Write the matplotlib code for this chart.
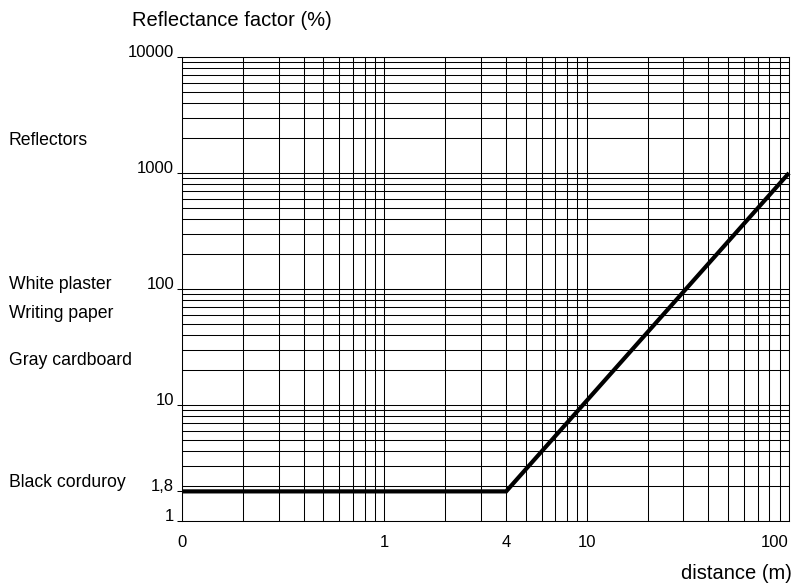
import numpy as np
import matplotlib.pyplot as plt
from matplotlib.ticker import FixedLocator, NullFormatter

plt.rcParams['font.family'] = ['Liberation Sans', 'DejaVu Sans']

# data
distance = [0.1, 4, 100]
reflectance = [1.8, 1.8, 1000]

x_ticks = [0.1, 1, 4, 10, 100]
x_labels = ['0', '1', '4', '10', '100']
y_ticks = [1, 1.8, 10, 100, 1000, 10000]
y_labels = ['1', '1,8', '10', '100', '1000', '10000']

materials = ['Reflectors', 'White plaster', 'Writing paper', 'Gray cardboard', 'Black corduroy']
material_y = [145, 289, 318, 365, 487]  # baseline in pixels from top

W, H = 801, 583
fig = plt.figure(figsize=(W / 100, H / 100), dpi=100)
ax = fig.add_axes([182 / W, 1 - 521 / H, (789 - 182) / W, (521 - 57) / H])

ax.plot(distance, reflectance, color='black', lw=3.0, solid_capstyle='butt',
        solid_joinstyle='miter', zorder=5, clip_on=False)

ax.set_xscale('log')
ax.set_yscale('log')
ax.set_xlim(0.1, 100)
ax.set_ylim(1, 10000)

# grid on every 1..9 of each decade
x_minor = [m * 10.0 ** e for e in range(-1, 2) for m in range(1, 10)] + [100]
y_minor = [m * 10.0 ** e for e in range(0, 4) for m in range(1, 10)] + [10000]
ax.xaxis.set_minor_locator(FixedLocator(x_minor))
ax.yaxis.set_minor_locator(FixedLocator(y_minor))
ax.xaxis.set_minor_formatter(NullFormatter())
ax.yaxis.set_minor_formatter(NullFormatter())
ax.xaxis.remove_overlapping_locs = False
ax.yaxis.remove_overlapping_locs = False
ax.grid(which='minor', color='black', lw=0.75)
ax.grid(which='major', visible=False)

ax.set_xticks(x_ticks)
ax.set_xticklabels(x_labels)
ax.set_yticks(y_ticks)
ax.set_yticklabels(y_labels)
ax.tick_params(which='minor', length=0)
ax.tick_params(axis='x', which='major', length=0, pad=10, labelsize=12)
ax.tick_params(axis='y', which='major', length=3.6, width=0.75, pad=2, labelsize=12)
for lab in ax.get_yticklabels():
    lab.set_va('baseline')
ax.get_xticklabels()[-1].set_ha('right')

for s in ax.spines.values():
    s.set_linewidth(0.75)

fig.text(132 / W, 1 - 26 / H, 'Reflectance factor (%)', fontsize=14.5, va='baseline')
fig.text(792 / W, 1 - 579 / H, 'distance (m)', fontsize=14.5, va='baseline', ha='right')

for name, yp in zip(materials, material_y):
    fig.text(9 / W, 1 - yp / H, name, fontsize=12.7, va='baseline')

fig.savefig('out.png', dpi=100)
